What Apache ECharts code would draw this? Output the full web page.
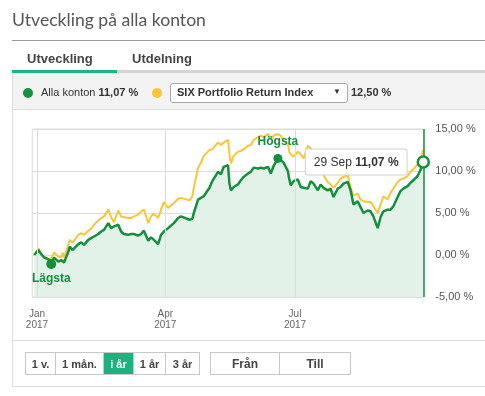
<!DOCTYPE html>
<html>
<head>
<meta charset="utf-8">
<script src="https://cdn.jsdelivr.net/npm/echarts@6/dist/echarts.min.js"></script>
<style>
  html,body{margin:0;padding:0;background:#fff;width:485px;height:396px;overflow:hidden;font-family:"Liberation Sans",Arial,sans-serif;}
  .abs{position:absolute;}
  #chart{position:absolute;left:0;top:0;width:485px;height:396px;z-index:1;}
  .ov{z-index:2;}
  .btns{display:flex;border:1px solid #c8c8c8;height:23px;box-sizing:border-box;}
  .btns div{display:flex;align-items:center;justify-content:center;font-weight:bold;font-size:11px;color:#444;border-right:1px solid #c8c8c8;box-sizing:border-box;}
  .btns div:last-child{border-right:none;}
</style>
</head>
<body>
<!-- background frame -->
<div class="abs" style="left:12px;top:73px;width:473px;height:36px;background:#f3f3f3;border-bottom:1px solid #dcdcdc;"></div>
<div class="abs" style="left:12px;top:73px;width:1px;height:314px;background:#dcdcdc;"></div>
<div class="abs" style="left:12px;top:340px;width:473px;height:1px;background:#dcdcdc;"></div>
<div class="abs" style="left:12px;top:386px;width:473px;height:1px;background:#dcdcdc;"></div>

<div id="chart"></div>

<div class="abs ov" style="left:12px;top:9px;font-family:Lato,sans-serif;font-size:17.6px;color:#555;">Utveckling på alla konton</div>
<div class="abs ov" style="left:12px;top:40px;width:473px;height:1px;background:#9a9a9a;"></div>
<div class="abs ov" style="left:27px;top:51px;font-weight:bold;font-size:13px;color:#444;">Utveckling</div>
<div class="abs ov" style="left:132px;top:51px;font-weight:bold;font-size:13px;color:#444;">Utdelning</div>
<div class="abs ov" style="left:12px;top:70px;width:105px;height:3px;background:#1cb583;"></div>
<div class="abs ov" style="left:117px;top:70px;width:368px;height:3px;background:#d4d4d4;"></div>

<div class="abs ov" style="left:23px;top:88px;width:10px;height:10px;border-radius:50%;background:#14923c;"></div>
<div class="abs ov" style="left:41px;top:86px;font-size:11px;color:#333;">Alla konton <b>11,07 %</b></div>
<div class="abs ov" style="left:152px;top:88px;width:10px;height:10px;border-radius:50%;background:#fbc535;"></div>
<div class="abs ov" style="left:170px;top:83px;width:178px;height:20px;box-sizing:border-box;border:1px solid #a8a8a8;border-radius:3px;background:#fff;"></div>
<div class="abs ov" style="left:177px;top:86px;font-size:11px;font-weight:bold;color:#333;">SIX Portfolio Return Index</div>
<div class="abs ov" style="left:333px;top:87px;font-size:8px;color:#333;">▼</div>
<div class="abs ov" style="left:351px;top:86px;font-size:11px;font-weight:bold;color:#333;">12,50 %</div>

<div class="abs ov btns" style="left:25px;top:352px;">
  <div style="width:30px;">1 v.</div>
  <div style="width:48px;">1 mån.</div>
  <div style="width:30px;background:#1cb27e;color:#fff;">i år</div>
  <div style="width:32px;">1 år</div>
  <div style="width:33px;">3 år</div>
</div>
<div class="abs ov btns" style="left:210px;top:352px;">
  <div style="width:69px;font-size:12px;">Från</div>
  <div style="width:70px;font-size:12px;">Till</div>
</div>

<script>
// ---- data ----
var dates = ['2016-12-30','2017-01-02','2017-01-04','2017-01-06','2017-01-09','2017-01-11','2017-01-13','2017-01-16','2017-01-18','2017-01-19','2017-01-20',
'2017-01-23','2017-01-24','2017-01-26','2017-01-27','2017-01-30','2017-02-01','2017-02-03','2017-02-06','2017-02-08','2017-02-10',
'2017-02-13','2017-02-15','2017-02-17','2017-02-20','2017-02-22','2017-02-24','2017-02-27','2017-03-01','2017-03-03','2017-03-06',
'2017-03-08','2017-03-10','2017-03-13','2017-03-15','2017-03-17','2017-03-20','2017-03-22','2017-03-24','2017-03-27','2017-03-29',
'2017-03-31','2017-04-03','2017-04-05','2017-04-07','2017-04-10','2017-04-12','2017-04-18','2017-04-20','2017-04-21','2017-04-24',
'2017-04-26','2017-04-28','2017-05-02','2017-05-04','2017-05-08','2017-05-10','2017-05-12','2017-05-15','2017-05-16','2017-05-17',
'2017-05-19','2017-05-22','2017-05-24','2017-05-26','2017-05-29','2017-05-31','2017-06-02','2017-06-05','2017-06-07','2017-06-09',
'2017-06-12','2017-06-14','2017-06-16','2017-06-19','2017-06-21','2017-06-23','2017-06-26','2017-06-27','2017-06-28','2017-06-30',
'2017-07-03','2017-07-05','2017-07-07','2017-07-10','2017-07-12','2017-07-14','2017-07-17','2017-07-19','2017-07-21','2017-07-24',
'2017-07-26','2017-07-28','2017-07-31','2017-08-02','2017-08-04','2017-08-07','2017-08-09','2017-08-11','2017-08-14','2017-08-16',
'2017-08-18','2017-08-21','2017-08-23','2017-08-25','2017-08-28','2017-08-30','2017-09-01','2017-09-04','2017-09-06','2017-09-08',
'2017-09-11','2017-09-13','2017-09-15','2017-09-18','2017-09-20','2017-09-22','2017-09-25','2017-09-27','2017-09-29'];

var allaKonton = [0.0,0.6,0.1,-0.3,-0.5,-1.07,-0.3,-0.8,-0.6,-0.4,-0.9,
0.4,1.0,0.6,0.4,1.3,1.5,1.2,1.8,2.0,2.2,
2.5,2.8,3.0,3.8,3.2,3.4,3.6,2.8,2.5,2.4,
2.5,2.5,2.3,2.5,2.9,1.7,2.1,1.8,1.3,2.4,
2.8,3.2,3.5,3.8,4.4,4.6,4.2,4.3,5.0,6.6,
6.8,7.0,8.0,8.8,9.9,9.6,10.5,10.7,8.5,7.7,
8.1,8.4,8.9,9.3,9.7,9.9,10.4,10.3,10.4,10.3,
10.5,9.7,10.6,11.5,11.3,11.0,10.0,9.0,8.3,8.8,
9.0,8.1,8.0,7.9,8.8,8.5,7.7,8.4,8.0,7.7,
7.9,6.9,7.9,8.1,8.5,8.7,7.7,6.0,6.4,5.7,
5.0,5.3,5.2,4.6,3.2,4.5,5.2,5.4,5.4,5.8,
6.9,7.6,7.9,8.2,8.6,8.9,9.4,10.1,11.07];

var sixIndex = [0.0,0.8,0.0,-0.2,-0.5,-0.5,0.3,-0.2,-0.3,0.3,-0.3,
1.2,1.8,1.5,1.3,2.4,2.6,2.4,2.9,3.1,3.6,
4.1,4.4,4.6,5.4,4.5,3.9,5.3,4.6,4.5,4.4,
4.4,4.6,4.8,5.2,5.4,3.8,4.6,4.9,4.4,5.4,
6.3,5.6,5.9,6.2,6.7,6.8,6.5,7.0,8.0,10.4,
11.0,11.8,12.5,12.6,13.4,13.1,13.4,13.7,12.0,10.9,
11.8,12.3,12.4,12.6,13.0,13.1,13.7,14.0,14.2,14.0,
14.4,13.8,14.2,14.4,14.2,13.6,13.3,12.3,12.0,11.7,
12.3,12.0,11.5,13.0,12.7,12.2,11.0,10.4,9.5,8.7,
8.4,8.0,8.6,9.1,9.3,9.5,8.0,7.1,7.3,6.6,
6.4,6.3,6.3,5.8,5.0,6.0,7.0,6.6,7.4,7.9,
8.7,9.0,9.1,9.4,9.9,10.2,10.8,11.5,12.5];

var yTicks = [-5, 0, 5, 10, 15];
var xTickDates = ['2017-01-01','2017-04-01','2017-07-01'];
var xTickLabels = ['Jan\n2017','Apr\n2017','Jul\n2017'];
var xMin = '2016-12-28 17:00';
var lowLabel = 'Lägsta';
var highLabel = 'Högsta';
var tipDate = '29 Sep';

// ---- chart ----
var GREEN = '#13903d', YELLOW = '#fbc535';
var fmtPct = function (v) { return v.toFixed(2).replace('.', ',') + ' %'; };
var greenData = dates.map(function (d, i) { return [d, allaKonton[i]]; });
var yellowData = dates.map(function (d, i) { return [d, sixIndex[i]]; });
var last = dates.length - 1;

var chart = echarts.init(document.getElementById('chart'), null, {renderer: 'canvas'});
chart.setOption({
  animation: false,
  backgroundColor: 'transparent',
  textStyle: {fontFamily: '"Liberation Sans", Arial, sans-serif'},
  grid: {left: 32.3, right: 61.7, top: 129, bottom: 99, show: true, borderColor: '#dcdcdc', borderWidth: 1},
  xAxis: {
    type: 'time', min: xMin, max: dates[last],
    axisLine: {show: false}, axisTick: {show: false},
    splitLine: {show: false}, axisLabel: {show: false}
  },
  yAxis: {
    type: 'value', position: 'right', min: yTicks[0], max: yTicks[yTicks.length - 1], interval: 5,
    axisLine: {show: false}, axisTick: {show: false},
    splitLine: {lineStyle: {color: '#dcdcdc'}},
    axisLabel: {color: '#555', fontSize: 11, margin: 12, formatter: fmtPct}
  },
  series: [
    {
      name: 'SIX Portfolio Return Index', type: 'line', data: yellowData, showSymbol: false, z: 2,
      lineStyle: {color: YELLOW, width: 2}, itemStyle: {color: YELLOW},
      markLine: {silent: true, symbol: ['none', 'none'],
        lineStyle: {color: '#dcdcdc', width: 1, type: 'solid'},
        label: {show: true, position: 'start', distance: 12, color: '#666', fontSize: 10, lineHeight: 11},
        data: xTickDates.map(function (d, i) { return {xAxis: d, label: {formatter: xTickLabels[i]}}; })}
    },
    {
      name: 'Alla konton', type: 'line', data: greenData, showSymbol: false, z: 3,
      lineStyle: {color: GREEN, width: 2.5}, itemStyle: {color: GREEN},
      areaStyle: {color: '#e3f2e8', opacity: 1, origin: 'start'},
      markLine: {silent: true, symbol: ['none', 'none'], label: {show: false},
        lineStyle: {color: GREEN, width: 1.5, type: 'solid'},
        data: [{xAxis: dates[last]}]},
      markPoint: {
        silent: true,
        data: [
          {type: 'min', symbol: 'circle', symbolSize: 10, itemStyle: {color: GREEN},
            label: {show: true, position: 'bottom', distance: 4, formatter: lowLabel, color: GREEN, fontWeight: 'bold', fontSize: 12}},
          {type: 'max', symbol: 'circle', symbolSize: 9, itemStyle: {color: GREEN},
            label: {show: true, position: 'top', distance: 6, formatter: highLabel, color: GREEN, fontWeight: 'bold', fontSize: 12}},
          {coord: [dates[last], allaKonton[last]], symbol: 'circle', symbolSize: 11,
            itemStyle: {color: '#fff', borderColor: GREEN, borderWidth: 2.5},
            label: {show: true, position: 'left', distance: 10,
              formatter: tipDate + ' {b|' + fmtPct(allaKonton[last]) + '}',
              color: '#333', fontSize: 12, backgroundColor: '#fff', borderColor: '#d0d0d0', borderWidth: 1,
              borderRadius: 2, padding: [7, 8, 6, 8],
              rich: {b: {fontWeight: 'bold', fontSize: 12, color: '#333'}}}}
        ]
      }
    }
  ]
});
</script>
</body>
</html>
